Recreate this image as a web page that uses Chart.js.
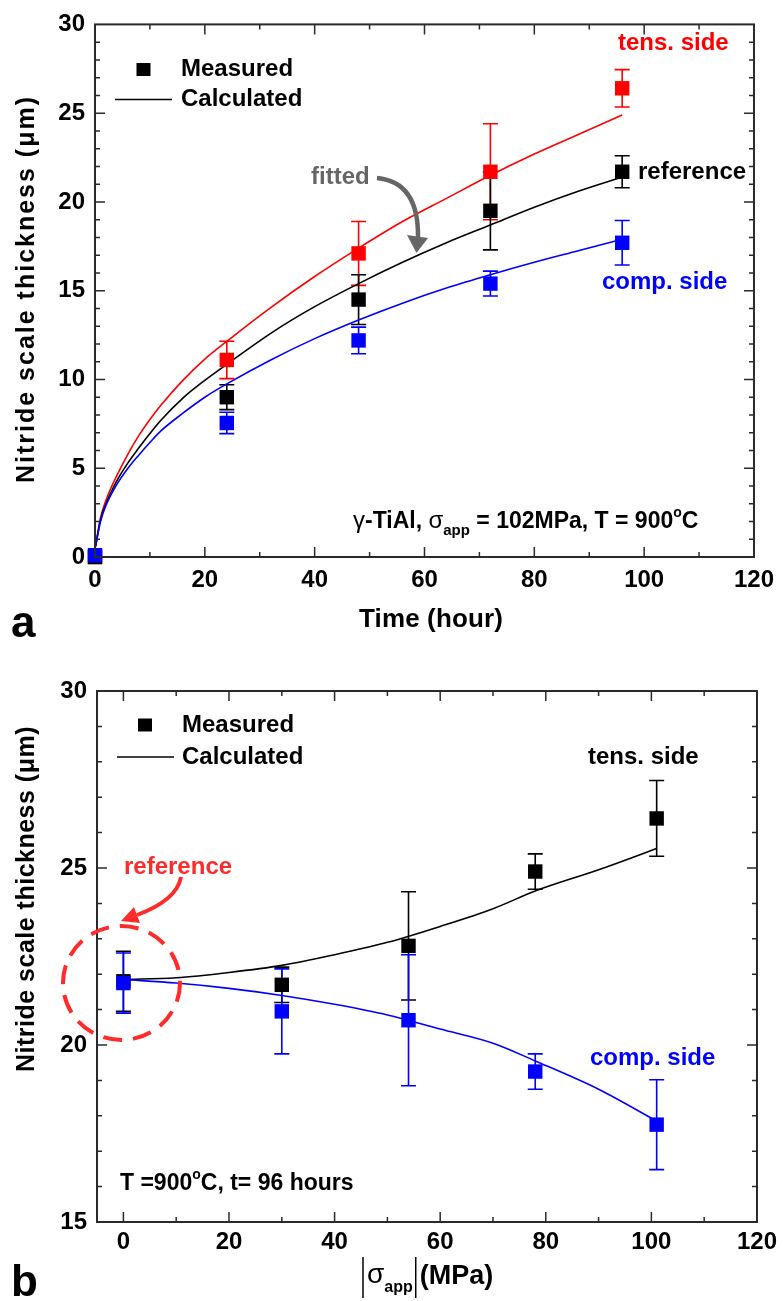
<!DOCTYPE html>
<html>
<head>
<meta charset="utf-8">
<title>Nitride scale thickness</title>
<script src="https://cdn.jsdelivr.net/npm/chart.js@4.4.1/dist/chart.umd.min.js"></script>
<style>
	body { margin: 0; background: #fff; }
	#page { position: relative; width: 783px; height: 1301px; }
	canvas { position: absolute; left: 0; }
	#chartA { top: 0; }
	#chartB { top: 650px; }
</style>
</head>
<body>
<div id="page">
	<canvas id="chartA" width="783" height="650"></canvas>
	<canvas id="chartB" width="783" height="651"></canvas>
</div>
<script>
const FONT = "'Liberation Sans', Arial, Helvetica, sans-serif"
const RED = '#ff0000'
const BLUE = '#0000ff'
const BLACK = '#000000'

// (a) thickness vs exposure time, measured
const timeMeasured = [0, 24, 48, 72, 96]
const tensMeasuredA = [0, 11.1, 17.1, 21.7, 26.4]
const tensErrA = [0, 1.05, 1.8, 2.7, 1.05]
const refMeasuredA = [0, 9.0, 14.5, 19.5, 21.7]
const refErrA = [0, 0.7, 1.4, 2.2, 0.9]
const compMeasuredA = [0.1, 7.55, 12.2, 15.4, 17.7]
const compErrA = [0, 0.6, 0.75, 0.7, 1.25]

// (a) calculated curves
const timeCalc = [0.1, 1, 2, 4, 6, 8, 10, 12, 16, 20, 24, 32, 40, 48, 56, 64, 72, 80, 88, 96]
const tensCalcA = [0.6, 2.2, 3.2, 4.6, 5.8, 6.85, 7.75, 8.55, 9.95, 11.15, 12.15, 14.05, 15.8, 17.4, 18.9, 20.2, 21.5, 22.7, 23.8, 24.9]
const refCalcA = [0.6, 2.1, 3.0, 4.3, 5.3, 6.15, 6.95, 7.7, 8.95, 9.95, 10.85, 12.6, 14.1, 15.4, 16.6, 17.7, 18.7, 19.7, 20.6, 21.4]
const compCalcA = [0.6, 2.0, 2.9, 4.1, 5.0, 5.75, 6.45, 7.1, 8.1, 9.0, 9.75, 11.1, 12.3, 13.35, 14.3, 15.15, 15.9, 16.6, 17.25, 17.9]

const xTicksA = [0, 20, 40, 60, 80, 100, 120]
const yTicksA = [0, 5, 10, 15, 20, 25, 30]

// (b) thickness after 96 h vs applied stress, measured
const stressMeasured = [0, 30, 54, 78, 101]
const tensMeasuredB = [21.8, 21.7, 22.8, 24.9, 26.4]
const tensErrB = [0.85, 0.5, 1.53, 0.5, 1.07]
const compMeasuredB = [21.75, 20.95, 20.7, 19.25, 17.75]
const compErrB = [0.85, 1.2, 1.85, 0.5, 1.27]

// (b) calculated curves
const stressCalc = [0, 10, 20, 30, 40, 50, 60, 70, 78, 90, 101]
const tensCalcB = [21.85, 21.9, 22.05, 22.25, 22.55, 22.9, 23.35, 23.85, 24.35, 24.95, 25.55]
const compCalcB = [21.85, 21.75, 21.6, 21.4, 21.15, 20.85, 20.45, 20.05, 19.55, 18.75, 17.85]

const xTicksB = [0, 20, 40, 60, 80, 100, 120]
const yTicksB = [15, 20, 25, 30]


function toPoints(xs, ys) {
	return xs.map((x, i) => ({ x: x, y: ys[i] }))
}

function measured(xs, ys, errs, color) {
	return {
		type: 'scatter',
		data: toPoints(xs, ys),
		errors: errs,
		pointStyle: 'rect',
		pointRadius: 10.2,
		pointBorderWidth: 0,
		backgroundColor: color,
		borderColor: color,
		clip: false,
	}
}

function calculated(xs, ys, color) {
	return {
		type: 'line',
		data: toPoints(xs, ys),
		borderColor: color,
		borderWidth: 1.6,
		pointRadius: 0,
		fill: false,
		cubicInterpolationMode: 'monotone',
	}
}

// vertical error bars with caps, under the squares
const errorBars = {
	id: 'errorBars',
	beforeDatasetsDraw(chart) {
		const ctx = chart.ctx
		const x = chart.scales.x
		const y = chart.scales.y
		ctx.save()
		ctx.lineWidth = 1.6
		const sets = chart.data.datasets
		for (let d = sets.length - 1; d >= 0; d--) {
			const ds = sets[d]
			if (!ds.errors) continue
			ctx.strokeStyle = ds.borderColor
			ds.data.forEach((p, i) => {
				const e = ds.errors[i]
				if (!e) return
				const px = x.getPixelForValue(p.x)
				const top = y.getPixelForValue(p.y + e)
				const bot = y.getPixelForValue(p.y - e)
				ctx.beginPath()
				ctx.moveTo(px, top)
				ctx.lineTo(px, bot)
				ctx.moveTo(px - 7.5, top)
				ctx.lineTo(px + 7.5, top)
				ctx.moveTo(px - 7.5, bot)
				ctx.lineTo(px + 7.5, bot)
				ctx.stroke()
			})
		}
		ctx.restore()
	},
}

// box frame with inward ticks on all four sides
const frameTicks = {
	id: 'frameTicks',
	afterDatasetsDraw(chart, args, opts) {
		const ctx = chart.ctx
		const a = chart.chartArea
		const x = chart.scales.x
		const y = chart.scales.y
		ctx.save()
		ctx.strokeStyle = '#2a2a2a'
		ctx.lineWidth = 1.5
		ctx.beginPath()
		const xMark = (v, len) => {
			const px = x.getPixelForValue(v)
			if (px <= a.left + 1 || px >= a.right - 1) return
			ctx.moveTo(px, a.bottom); ctx.lineTo(px, a.bottom - len)
			ctx.moveTo(px, a.top); ctx.lineTo(px, a.top + len)
		}
		const yMark = (v, len) => {
			const py = y.getPixelForValue(v)
			if (py <= a.top + 1 || py >= a.bottom - 1) return
			ctx.moveTo(a.left, py); ctx.lineTo(a.left + len, py)
			ctx.moveTo(a.right, py); ctx.lineTo(a.right - len, py)
		}
		const xMajor = x.ticks.map(t => t.value)
		const yMajor = y.ticks.map(t => t.value)
		xMajor.forEach(v => xMark(v, 10))
		yMajor.forEach(v => yMark(v, 10))
		for (let v = Math.ceil(x.min / opts.xMinor) * opts.xMinor; v < x.max; v += opts.xMinor) {
			if (!xMajor.includes(v)) xMark(v, 5)
		}
		for (let v = Math.ceil(y.min / opts.yMinor) * opts.yMinor; v < y.max; v += opts.yMinor) {
			if (!yMajor.includes(v)) yMark(v, 5)
		}
		ctx.stroke()
		ctx.lineWidth = 2
		ctx.strokeRect(a.left, a.top, a.right - a.left, a.bottom - a.top)
		ctx.restore()
	},
}

function label(ctx, s, x, y, color) {
	ctx.font = 'bold 24px ' + FONT
	ctx.fillStyle = color
	ctx.textAlign = 'left'
	ctx.textBaseline = 'middle'
	ctx.fillText(s, x, y)
}

function rich(ctx, parts, x, y, color) {
	ctx.fillStyle = color
	ctx.textAlign = 'left'
	ctx.textBaseline = 'alphabetic'
	parts.forEach(p => {
		ctx.font = (p[3] || 'bold') + ' ' + p[1] + 'px ' + FONT
		ctx.fillText(p[0], x, y + p[2])
		x += ctx.measureText(p[0]).width
	})
	return x
}

function fitText(ctx, s, cx, cy, length, size, rotate) {
	ctx.save()
	ctx.font = 'bold ' + size + 'px ' + FONT
	const w = ctx.measureText(s).width
	if ('letterSpacing' in ctx) ctx.letterSpacing = ((length - w) / s.length).toFixed(2) + 'px'
	ctx.translate(cx, cy)
	if (rotate) ctx.rotate(-Math.PI / 2)
	ctx.fillStyle = BLACK
	ctx.textAlign = 'center'
	ctx.textBaseline = 'middle'
	ctx.fillText(s, 0, 0)
	ctx.restore()
}

function legendBox(ctx, sqX, sqY, lineY, lineX1, lineX2, textX) {
	ctx.fillStyle = BLACK
	ctx.fillRect(sqX - 7, sqY - 6.5, 14, 13)
	ctx.strokeStyle = BLACK
	ctx.lineWidth = 1.6
	ctx.beginPath()
	ctx.moveTo(lineX1, lineY)
	ctx.lineTo(lineX2, lineY)
	ctx.stroke()
	label(ctx, 'Measured', textX, sqY, BLACK)
	label(ctx, 'Calculated', textX, lineY, BLACK)
}

function notesA(chart) {
	const ctx = chart.ctx
	ctx.save()
	legendBox(ctx, 143.5, 69.5, 99.5, 115, 172, 181)
	label(ctx, 'tens. side', 618, 43, RED)
	label(ctx, 'reference', 638, 172.5, BLACK)
	label(ctx, 'comp. side', 602, 282, BLUE)
	label(ctx, 'fitted', 311, 177.5, '#666')

	// curved arrow: "fitted" -> reference curve
	ctx.strokeStyle = '#666'
	ctx.fillStyle = '#666'
	ctx.lineWidth = 4.5
	ctx.beginPath()
	ctx.moveTo(377, 178)
	ctx.quadraticCurveTo(419, 182, 418, 238)
	ctx.stroke()
	ctx.beginPath()
	ctx.moveTo(407, 235)
	ctx.lineTo(428, 238)
	ctx.lineTo(416.5, 253)
	ctx.closePath()
	ctx.fill()

	rich(ctx, [
		['γ', 24, 0, 'normal'], ['-TiAl, ', 23, 0], ['σ', 24, 0, 'normal'], ['app', 15, 7],
		[' = 102MPa, T = 900', 23, 0], ['o', 14, -11], ['C', 23, 0],
	], 353, 528, BLACK)

	fitText(ctx, 'Nitride scale thickness (μm)', 27, 289, 388, 25, true)
	fitText(ctx, 'Time (hour)', 431, 620, 144, 26, false)

	ctx.font = 'bold 44px ' + FONT
	ctx.fillStyle = BLACK
	ctx.textBaseline = 'alphabetic'
	ctx.textAlign = 'left'
	ctx.fillText('a', 11, 637)
	ctx.restore()
}

function notesB(chart) {
	const ctx = chart.ctx
	const pink = '#ff2a2a'
	ctx.save()
	legendBox(ctx, 145, 75, 107, 117, 174, 182)
	label(ctx, 'tens. side', 588, 107.5, BLACK)
	label(ctx, 'comp. side', 590, 408, BLUE)
	label(ctx, 'reference', 124, 217, pink)

	// dashed ring round the zero-stress point
	ctx.strokeStyle = pink
	ctx.fillStyle = pink
	ctx.lineWidth = 4
	ctx.setLineDash([19, 11])
	ctx.beginPath()
	ctx.ellipse(121.5, 333, 58.5, 57, 0, 0, Math.PI * 2)
	ctx.stroke()
	ctx.setLineDash([])

	// arrow from the "reference" label down-left to the ring
	ctx.beginPath()
	ctx.moveTo(181, 227)
	ctx.quadraticCurveTo(177, 250, 137, 265)
	ctx.stroke()
	ctx.beginPath()
	ctx.moveTo(140, 273)
	ctx.lineTo(134, 257)
	ctx.lineTo(121, 271)
	ctx.closePath()
	ctx.fill()

	rich(ctx, [
		['T =900', 23, 0], ['o', 14, -11], ['C, t= 96 hours', 23, 0],
	], 120, 540, BLACK)

	fitText(ctx, 'Nitride scale thickness (μm)', 27, 249, 346, 25, true)

	// |σapp|(MPa)
	ctx.strokeStyle = BLACK
	ctx.lineWidth = 1.5
	ctx.beginPath()
	ctx.moveTo(363, 607)
	ctx.lineTo(363, 648)
	ctx.stroke()
	let xx = rich(ctx, [['σ', 28, 0, 'normal'], ['app', 16, 9]], 367, 633, BLACK)
	xx += 3
	ctx.beginPath()
	ctx.moveTo(xx, 607)
	ctx.lineTo(xx, 648)
	ctx.stroke()
	rich(ctx, [['(MPa)', 27, 0]], xx + 4, 634, BLACK)

	ctx.font = 'bold 44px ' + FONT
	ctx.fillStyle = BLACK
	ctx.textBaseline = 'alphabetic'
	ctx.textAlign = 'left'
	ctx.fillText('b', 11, 646)
	ctx.restore()
}

function makeChart(id, cfg) {
	const tickFont = { family: FONT, size: 24, weight: 'bold' }
	return new Chart(document.getElementById(id), {
		type: 'scatter',
		data: { datasets: cfg.datasets },
		options: {
			responsive: false,
			animation: false,
			devicePixelRatio: 1,
			layout: { padding: cfg.padding },
			plugins: {
				legend: { display: false },
				tooltip: { enabled: false },
				frameTicks: { xMinor: 10, yMinor: 1 },
			},
			scales: {
				x: {
					type: 'linear',
					min: cfg.xMin,
					max: cfg.xMax,
					grid: { display: false, drawTicks: false },
					border: { display: false },
					ticks: { font: tickFont, color: BLACK, padding: cfg.xPad, maxRotation: 0 },
					afterBuildTicks: s => { s.ticks = cfg.xTicks.map(v => ({ value: v })) },
					afterFit: s => { s.height = cfg.xHeight },
				},
				y: {
					type: 'linear',
					min: cfg.yMin,
					max: cfg.yMax,
					grid: { display: false, drawTicks: false },
					border: { display: false },
					ticks: { font: tickFont, color: BLACK, padding: 10 },
					afterBuildTicks: s => { s.ticks = cfg.yTicks.map(v => ({ value: v })) },
					afterFit: s => { s.width = cfg.yWidth },
				},
			},
		},
		plugins: [errorBars, frameTicks, { id: 'notes', afterDraw: cfg.notes }],
	})
}

makeChart('chartA', {
	datasets: [
		measured(timeMeasured, compMeasuredA, compErrA, BLUE),
		measured(timeMeasured, refMeasuredA, refErrA, BLACK),
		measured(timeMeasured, tensMeasuredA, tensErrA, RED),
		calculated(timeCalc, compCalcA, BLUE),
		calculated(timeCalc, refCalcA, BLACK),
		calculated(timeCalc, tensCalcA, RED),
	],
	padding: { top: 22, right: 24, left: 0, bottom: 0 },
	xMin: 0, xMax: 120, yMin: 0, yMax: 30,
	xTicks: xTicksA, yTicks: yTicksA,
	xHeight: 93, yWidth: 95, xPad: 9,
	notes: notesA,
})

makeChart('chartB', {
	datasets: [
		measured(stressMeasured, compMeasuredB, compErrB, BLUE),
		measured(stressMeasured, tensMeasuredB, tensErrB, BLACK),
		calculated(stressCalc, compCalcB, BLUE),
		calculated(stressCalc, tensCalcB, BLACK),
	],
	padding: { top: 41, right: 26, left: 0, bottom: 0 },
	xMin: -5, xMax: 120, yMin: 15, yMax: 30,
	xTicks: xTicksB, yTicks: yTicksB,
	xHeight: 79, yWidth: 97, xPad: 6,
	notes: notesB,
})
</script>
</body>
</html>
